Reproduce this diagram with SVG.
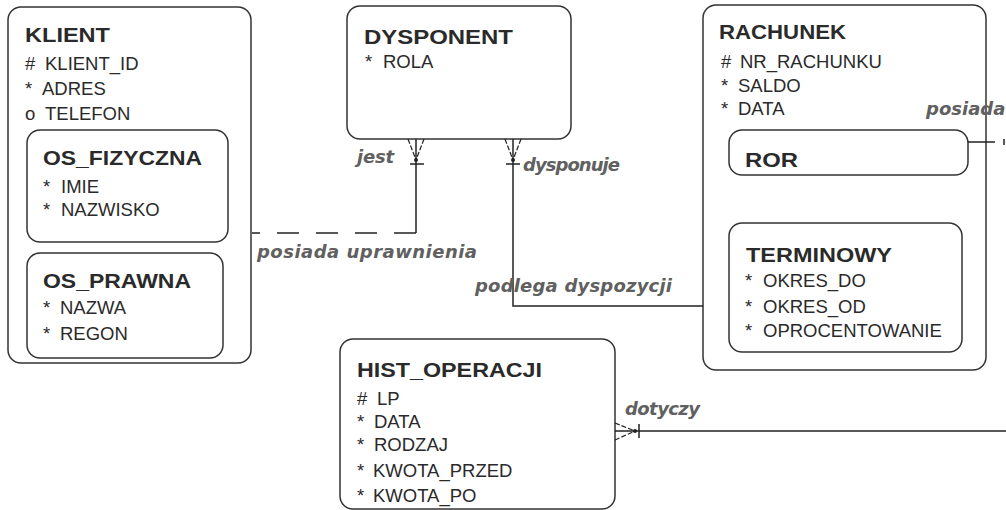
<svg xmlns="http://www.w3.org/2000/svg" width="1006" height="510" viewBox="0 0 1006 510">
<style>
.box{fill:#ffffff;stroke:#333333;stroke-width:1.5}
.title{font-family:"Liberation Sans",Arial,sans-serif;font-weight:bold;font-size:20px;fill:#2a2a2a}
.attr{font-family:"Liberation Sans",Arial,sans-serif;font-size:18.5px;fill:#2a2a2a}
.lbl{font-family:"DejaVu Sans",sans-serif;font-weight:bold;font-style:italic;font-size:18px;fill:#606060}
.ln{fill:none;stroke:#222222;stroke-width:1.5}
.prong{fill:none;stroke:#222222;stroke-width:1.2;stroke-dasharray:5 2}
.dash{fill:none;stroke:#222222;stroke-width:1.5;stroke-dasharray:22 17}
</style>
<rect width="1006" height="510" fill="#ffffff"/>

<g id="KLIENT">
  <rect class="box" x="8" y="7" width="243" height="356" rx="13"/>
  <text class="title" x="25" y="42" textLength="85" lengthAdjust="spacingAndGlyphs">KLIENT</text>
  <text class="attr" y="70"><tspan x="25">#</tspan><tspan x="45">KLIENT_ID</tspan></text>
  <text class="attr" y="95"><tspan x="25">*</tspan><tspan x="42">ADRES</tspan></text>
  <text class="attr" y="120"><tspan x="25">o</tspan><tspan x="45">TELEFON</tspan></text>
</g>

<g id="OS_FIZYCZNA">
  <rect class="box" x="27" y="130" width="201" height="112" rx="13"/>
  <text class="title" x="43" y="165" textLength="159" lengthAdjust="spacingAndGlyphs">OS_FIZYCZNA</text>
  <text class="attr" y="193"><tspan x="43">*</tspan><tspan x="61">IMIE</tspan></text>
  <text class="attr" y="216"><tspan x="43">*</tspan><tspan x="61">NAZWISKO</tspan></text>
</g>

<g id="OS_PRAWNA">
  <rect class="box" x="27" y="253" width="196" height="105" rx="13"/>
  <text class="title" x="43" y="288" textLength="148" lengthAdjust="spacingAndGlyphs">OS_PRAWNA</text>
  <text class="attr" y="314"><tspan x="43">*</tspan><tspan x="60">NAZWA</tspan></text>
  <text class="attr" y="340"><tspan x="43">*</tspan><tspan x="60">REGON</tspan></text>
</g>

<g id="DYSPONENT">
  <rect class="box" x="347" y="6" width="224" height="133" rx="13"/>
  <text class="title" x="364" y="44" textLength="149" lengthAdjust="spacingAndGlyphs">DYSPONENT</text>
  <text class="attr" y="68"><tspan x="365">*</tspan><tspan x="383">ROLA</tspan></text>
</g>

<g id="RACHUNEK">
  <rect class="box" x="703" y="5" width="283" height="365" rx="13"/>
  <text class="title" x="719" y="39" textLength="127" lengthAdjust="spacingAndGlyphs">RACHUNEK</text>
  <text class="attr" y="68"><tspan x="721">#</tspan><tspan x="740">NR_RACHUNKU</tspan></text>
  <text class="attr" y="92"><tspan x="721">*</tspan><tspan x="738">SALDO</tspan></text>
  <text class="attr" y="115"><tspan x="721">*</tspan><tspan x="738">DATA</tspan></text>
</g>

<g id="ROR">
  <rect class="box" x="729" y="130" width="239" height="45" rx="13"/>
  <text class="title" x="745" y="167" textLength="53" lengthAdjust="spacingAndGlyphs">ROR</text>
</g>

<g id="TERMINOWY">
  <rect class="box" x="729" y="223" width="233" height="129" rx="13"/>
  <text class="title" x="746" y="262" textLength="146" lengthAdjust="spacingAndGlyphs">TERMINOWY</text>
  <text class="attr" y="287"><tspan x="745">*</tspan><tspan x="763">OKRES_DO</tspan></text>
  <text class="attr" y="313"><tspan x="745">*</tspan><tspan x="763">OKRES_OD</tspan></text>
  <text class="attr" y="337"><tspan x="745">*</tspan><tspan x="763">OPROCENTOWANIE</tspan></text>
</g>

<g id="HIST_OPERACJI">
  <rect class="box" x="340" y="339" width="275" height="170" rx="13"/>
  <text class="title" x="357" y="377" textLength="185" lengthAdjust="spacingAndGlyphs">HIST_OPERACJI</text>
  <text class="attr" y="405"><tspan x="357">#</tspan><tspan x="377">LP</tspan></text>
  <text class="attr" y="428"><tspan x="357">*</tspan><tspan x="374">DATA</tspan></text>
  <text class="attr" y="451"><tspan x="357">*</tspan><tspan x="374">RODZAJ</tspan></text>
  <text class="attr" y="477"><tspan x="357">*</tspan><tspan x="373">KWOTA_PRZED</tspan></text>
  <text class="attr" y="502"><tspan x="357">*</tspan><tspan x="373">KWOTA_PO</tspan></text>
</g>

<g id="connectors">
  <!-- jest / posiada uprawnienia -->
  <path class="prong" d="M408,139 L416,160 M424,139 L416,160"/>
  <path class="ln" d="M416,139 L416,160"/>
  <circle cx="416" cy="160" r="2" fill="#222"/>
  <path class="ln" d="M410,164 L424,164 M416,160 L416,233"/>
  <path class="dash" d="M416,233 L252,233"/>
  <!-- dysponuje / podlega dyspozycji -->
  <path class="prong" d="M505,139 L513,160 M521,139 L513,160"/>
  <path class="ln" d="M513,139 L513,160"/>
  <circle cx="513" cy="160" r="2" fill="#222"/>
  <path class="ln" d="M506,164 L520,164 M513,160 L513,306 L703,306"/>
  <!-- posiada (ROR) -->
  <path class="ln" d="M968,142 L995,142 M1004,139 L1004,145"/>
  <!-- dotyczy -->
  <path class="prong" d="M615,423 L635,431 M615,440 L635,431"/>
  <circle cx="635" cy="431" r="2" fill="#222"/>
  <path class="ln" d="M615,431 L1006,431 M639,424 L639,438"/>
</g>

<g id="labels">
  <text class="lbl" x="357" y="163" textLength="37">jest</text>
  <text class="lbl" x="523" y="171" textLength="97">dysponuje</text>
  <text class="lbl" x="257" y="258" textLength="220">posiada uprawnienia</text>
  <text class="lbl" x="475" y="292" textLength="197">podlega dyspozycji</text>
  <text class="lbl" x="926" y="115">posiada</text>
  <text class="lbl" x="625" y="415" textLength="75">dotyczy</text>
</g>
</svg>
